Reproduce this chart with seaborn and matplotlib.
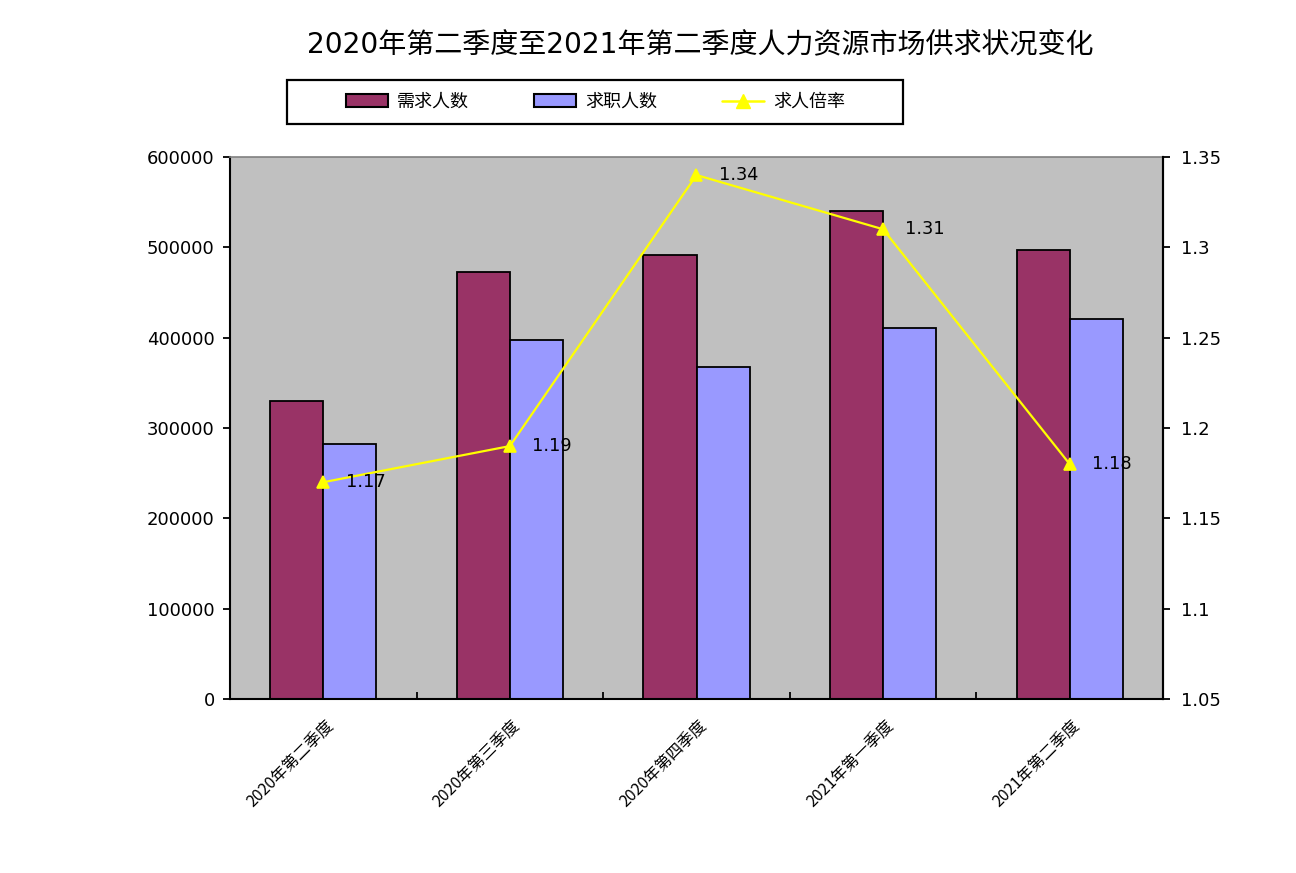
"""
2020Q2-2021Q2 labour market supply/demand chart (bars + ratio line on twin axis).
"""

import matplotlib

matplotlib.use("Agg")
import matplotlib.pyplot as plt
import matplotlib.transforms as mtransforms
from matplotlib.lines import Line2D
from matplotlib.patches import Patch, Rectangle
from matplotlib.ticker import FixedLocator, FuncFormatter
import pandas as pd
import seaborn as sns


QUARTERS = ["2020年第二季度", "2020年第三季度", "2020年第四季度", "2021年第一季度", "2021年第二季度"]
DEMAND = [330000, 472500, 491500, 540000, 497000]
SUPPLY = [282500, 397500, 367500, 410500, 420500]
RATIO = [1.17, 1.19, 1.34, 1.31, 1.18]
SERIES = ["需求人数", "求职人数"]
RATIO_NAME = "求人倍率"
TITLE = "2020年第二季度至2021年第二季度人力资源市场供求状况变化"

BAR_COLORS = ["#993366", "#9999FF"]
LINE_COLOR = "#FFFF00"
CJK = ["DejaVu Sans", "Noto Sans CJK SC"]
W, H = 1296, 873


def main() -> None:
    sns.set_style("ticks")
    plt.rcParams["font.family"] = CJK
    plt.rcParams["text.color"] = "black"
    plt.rcParams["xtick.color"] = "black"
    plt.rcParams["ytick.color"] = "black"
    plt.rcParams["xtick.labelcolor"] = "black"
    plt.rcParams["ytick.labelcolor"] = "black"

    df = pd.DataFrame(
        {
            "quarter": QUARTERS * 2,
            "series": [SERIES[0]] * len(QUARTERS) + [SERIES[1]] * len(QUARTERS),
            "value": DEMAND + SUPPLY,
        }
    )

    fig = plt.figure(figsize=(W / 100, H / 100), dpi=100)
    ax = fig.add_axes([230 / W, 1 - 699 / H, 933 / W, 542 / H])
    ax.set_facecolor("#C0C0C0")

    sns.barplot(
        data=df, x="quarter", y="value", hue="series", order=QUARTERS,
        hue_order=SERIES, palette=BAR_COLORS, width=0.57, gap=0,
        edgecolor="black", linewidth=1.3, legend=False, ax=ax, saturation=1,
    )

    ax2 = ax.twinx()
    sns.pointplot(
        x=QUARTERS, y=RATIO, order=QUARTERS, color=LINE_COLOR, markers="^",
        linestyles="-", markersize=9, linewidth=1.6, ax=ax2,
    )
    for i, r in enumerate(RATIO):
        offset = mtransforms.offset_copy(ax2.transData, fig=fig, x=16, y=0, units="points")
        ax2.text(i, r, f"{r:.2f}", transform=offset, ha="left", va="center",
                 fontsize=12.8, color="black")

    # axes limits and ticks
    ax.set_xlim(-0.5, len(QUARTERS) - 0.5)
    ax.set_ylim(0, 600000)
    ax.set_yticks(range(0, 600001, 100000))
    ax.yaxis.set_major_formatter(FuncFormatter(lambda v, _: f"{int(v)}"))
    ax2.set_ylim(1.05, 1.35)
    ax2.set_yticks([1.05, 1.10, 1.15, 1.20, 1.25, 1.30, 1.35])
    ax2.yaxis.set_major_formatter(FuncFormatter(lambda v, _: f"{v:g}"))

    ax.set_xticks(range(len(QUARTERS)))
    ax.set_xticklabels(QUARTERS)
    ax.xaxis.set_minor_locator(FixedLocator([0.5, 1.5, 2.5, 3.5]))
    ax.tick_params(axis="x", which="major", length=0, pad=13)
    ax.tick_params(axis="x", which="minor", direction="in", length=5, width=1.3, color="black")
    ax.tick_params(axis="y", direction="out", length=5, width=1.3, labelsize=13, pad=6)
    ax2.tick_params(axis="y", direction="out", length=5, width=1.3, labelsize=13, pad=8)

    shift = mtransforms.ScaledTranslation(1.5 / 72, 0, fig.dpi_scale_trans)
    for lbl in ax.get_xticklabels():
        lbl.set_rotation(45)
        lbl.set_ha("right")
        lbl.set_va("top")
        lbl.set_rotation_mode("anchor")
        lbl.set_fontsize(11.5)
        lbl.set_family(["Noto Sans CJK SC"])
        lbl.set_transform(lbl.get_transform() + shift)

    for a in (ax, ax2):
        a.set_xlabel("")
        a.set_ylabel("")

    # spines
    for side in ("left", "bottom", "right"):
        ax.spines[side].set_visible(True)
        ax.spines[side].set_color("black")
        ax.spines[side].set_linewidth(1.5)
    ax.spines["top"].set_visible(True)
    ax.spines["top"].set_color("#808080")
    ax.spines["top"].set_linewidth(1.2)
    for side in ("left", "bottom", "top"):
        ax2.spines[side].set_visible(False)
    ax2.spines["right"].set_color("black")
    ax2.spines["right"].set_linewidth(1.5)

    # legend: entries spread across a fixed span, box drawn separately
    handles = [
        Patch(facecolor=BAR_COLORS[0], edgecolor="black", linewidth=1.5),
        Patch(facecolor=BAR_COLORS[1], edgecolor="black", linewidth=1.5),
        Line2D([], [], color=LINE_COLOR, marker="^", markersize=10, linewidth=1.8),
    ]
    fig.legend(
        handles, SERIES + [RATIO_NAME], ncol=3, mode="expand",
        bbox_to_anchor=(346 / W, 1 - 124 / H, (845 - 346) / W, 44 / H), loc="center",
        handlelength=2.3, handleheight=0.75, handletextpad=0.5,
        borderaxespad=0, borderpad=0, frameon=False,
        prop={"family": ["Noto Sans CJK SC"], "size": 13},
    )
    fig.patches.append(
        Rectangle((287 / W, 1 - 124 / H), 616 / W, 44 / H, transform=fig.transFigure,
                  facecolor="white", edgecolor="black", linewidth=1.6, zorder=-1)
    )

    fig.text(0.540, 1 - 45 / H, TITLE, ha="center", va="center", fontsize=20.2,
             color="black", family=["DejaVu Sans", "Noto Sans CJK SC"])

    fig.savefig("out.png", dpi=100)
    plt.close(fig)


if __name__ == "__main__":
    main()
